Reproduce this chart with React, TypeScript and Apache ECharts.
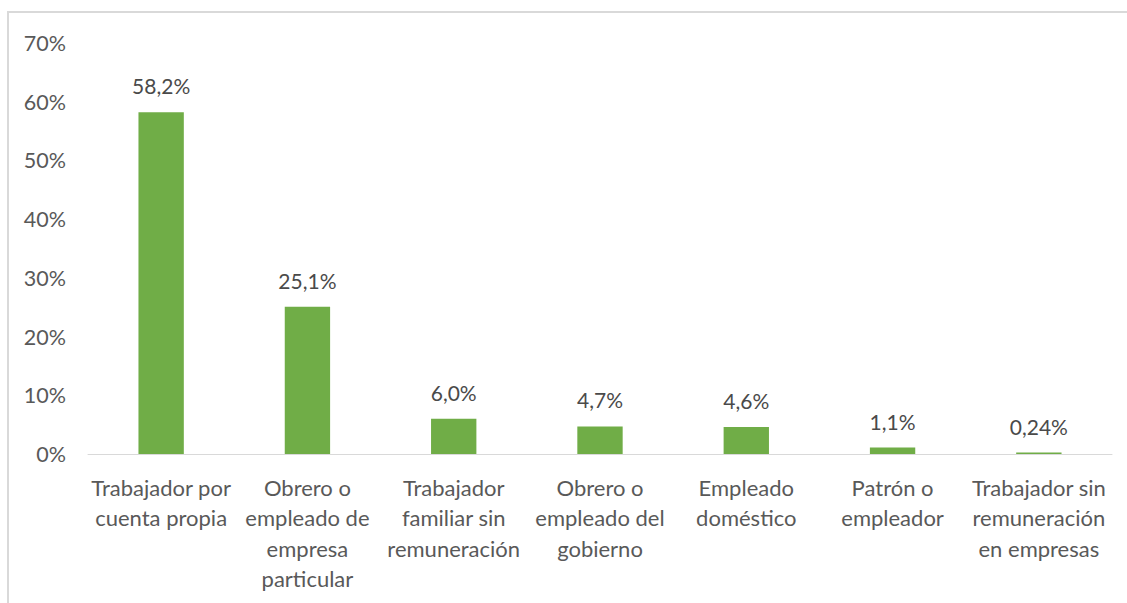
import React, { useEffect, useRef } from "react";
import * as echarts from "echarts";

const categories = [
  "Trabajador por\ncuenta propia",
  "Obrero o\nempleado de\nempresa\nparticular",
  "Trabajador\nfamiliar sin\nremuneración",
  "Obrero o\nempleado del\ngobierno",
  "Empleado\ndoméstico",
  "Patrón o\nempleador",
  "Trabajador sin\nremuneración\nen empresas",
];
const values = [58.2, 25.1, 6.0, 4.7, 4.6, 1.1, 0.24];
const valueLabels = ["58,2%", "25,1%", "6,0%", "4,7%", "4,6%", "1,1%", "0,24%"];

const FONT = "Lato, 'Open Sans', sans-serif";
const TEXT = "#595959";

export default function App() {
  const ref = useRef<HTMLDivElement>(null);
  useEffect(() => {
    if (!ref.current) return;
    const chart = echarts.init(ref.current, null, { renderer: "svg" });
    chart.setOption({
      animation: false,
      backgroundColor: "#ffffff",
      grid: { left: 88, right: 15, top: 43, bottom: 149 },
      graphic: [
        {
          type: "rect",
          shape: { x: 8, y: 12, width: 1130, height: 600 },
          style: { fill: "none", stroke: "#d9d9d9", lineWidth: 2 },
          silent: true,
        },
      ],
      xAxis: {
        type: "category",
        data: categories,
        axisLine: { lineStyle: { color: "#d9d9d9", width: 1 } },
        axisTick: { show: false },
        axisLabel: {
          color: TEXT,
          fontFamily: FONT,
          fontSize: 22,
          lineHeight: 30.5,
          margin: 18,
          interval: 0,
        },
      },
      yAxis: {
        type: "value",
        min: 0,
        max: 70,
        interval: 10,
        splitLine: { show: false },
        axisLine: { show: false },
        axisTick: { show: false },
        axisLabel: {
          color: TEXT,
          fontFamily: FONT,
          fontSize: 21.5,
          margin: 22,
          formatter: "{value}%",
        },
      },
      series: [
        {
          type: "bar",
          data: values,
          barWidth: "31%",
          itemStyle: { color: "#70ad47" },
          label: {
            show: true,
            position: "top",
            distance: 16,
            color: "#4a4a4a",
            fontFamily: FONT,
            fontSize: 21,
            formatter: (p: any) => valueLabels[p.dataIndex],
          },
        },
      ],
    });
    return () => chart.dispose();
  }, []);
  return (
    <div
      ref={ref}
      style={{ position: "fixed", left: 0, top: 0, width: 1127, height: 603, background: "#fff" }}
    />
  );
}
